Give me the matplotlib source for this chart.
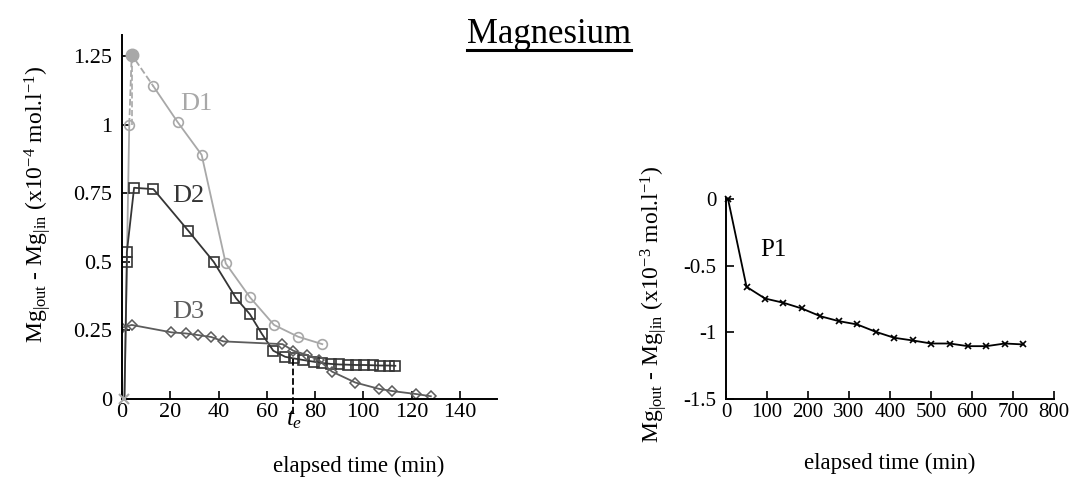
import matplotlib
matplotlib.use("Agg")
import matplotlib.pyplot as plt
from matplotlib.lines import Line2D

# ---- data ----
# D1 (light grey circles); indices 1..3 are the dashed estimated peak segment
d1_t = [1, 3, 4, 13, 23, 33, 43, 53, 63, 73, 83]
d1_v = [0, 1.0, 1.255, 1.14, 1.01, 0.89, 0.494, 0.371, 0.27, 0.227, 0.2]

# D2 (dark squares)
d2_t = [1, 2, 2, 5, 13, 27.5, 38, 47.3, 53, 58, 62.7, 67.6, 71.1, 75.2, 79.4,
        83, 86.5, 90, 93.5, 97, 100.5, 104, 107, 110.5, 113.3]
d2_v = [0, 0.50, 0.535, 0.77, 0.765, 0.613, 0.50, 0.367, 0.309, 0.237, 0.176,
        0.154, 0.148, 0.142, 0.136, 0.131, 0.128, 0.126, 0.125, 0.124, 0.124,
        0.123, 0.122, 0.122, 0.121]

# D3 (grey diamonds)
d3_t = [0, 4, 20.5, 26.5, 31.5, 37, 42, 66.5, 71, 76.5, 81.5, 87, 96.7,
        106.5, 112, 122, 128]
d3_v = [0.26, 0.27, 0.243, 0.239, 0.233, 0.226, 0.21, 0.2, 0.176, 0.161,
        0.142, 0.1, 0.06, 0.037, 0.029, 0.018, 0.01]

t_e = 71
t_e_top = 0.145

# P1 (right panel)
p1_t = [5, 50, 95, 140, 185, 230, 275, 320, 365, 410, 455, 500, 545, 590,
        635, 680, 725]
p1_v = [0, -0.657, -0.745, -0.777, -0.82, -0.878, -0.915, -0.94, -0.995,
        -1.04, -1.06, -1.083, -1.083, -1.103, -1.103, -1.083, -1.09]

left_xticks = [0, 20, 40, 60, 80, 100, 120, 140]
left_yticks = [0, 0.25, 0.5, 0.75, 1, 1.25]
left_ytick_labels = ["0", "0.25", "0.5", "0.75", "1", "1.25"]
right_xticks = [0, 100, 200, 300, 400, 500, 600, 700, 800]
right_yticks = [0, -0.5, -1, -1.5]
right_ytick_labels = ["0", "-0.5", "-1", "-1.5"]

plt.rcParams["font.family"] = ["Liberation Serif", "DejaVu Serif"]
plt.rcParams["mathtext.fontset"] = "custom"
plt.rcParams["mathtext.rm"] = "Liberation Serif"
plt.rcParams["mathtext.it"] = "Liberation Serif:italic"

C1 = "#a8a8a8"
C2 = "#353535"
C3 = "#5c5c5c"

fig = plt.figure(figsize=(10.78, 4.79), dpi=100)
ax1 = fig.add_axes([0.1132, 0.167, 0.348, 0.760])
ax2 = fig.add_axes([0.6735, 0.167, 0.3043, 0.4196])


def style_axes(ax, size):
    for s in ("top", "right"):
        ax.spines[s].set_visible(False)
    for s in ("left", "bottom"):
        ax.spines[s].set_linewidth(1.4)
    ax.tick_params(direction="in", length=6, width=1.2, labelsize=size)
    ax.tick_params(axis="y", pad=7)
    ax.tick_params(axis="x", pad=3)


# ---- left panel ----
# D1: solid start, dashed peak estimate, solid decay
ax1.plot(d1_t[:2], d1_v[:2], "-", color=C1, lw=1.3)
ax1.plot(d1_t[1:4], d1_v[1:4], "--", color=C1, lw=1.3)
ax1.plot(d1_t[3:], d1_v[3:], "-", color=C1, lw=1.3)
ax1.plot([d1_t[1]] + d1_t[3:], [d1_v[1]] + d1_v[3:], "o", ls="none",
         mfc="none", mec=C1, ms=7, mew=1.2)
ax1.plot(d1_t[2], d1_v[2], "o", color=C1, ms=9)
ax1.plot([d1_t[2], d1_t[2]], [d1_v[1], d1_v[2]], "--", color=C1, lw=1.2)

ax1.plot(d2_t, d2_v, "-", color=C2, lw=1.3, marker="s", mfc="none",
         mec=C2, ms=7, mew=1.2, markevery=list(range(1, len(d2_t))))
ax1.plot(d3_t, d3_v, "-", color=C3, lw=1.3, marker="D", mfc="none",
         mec=C3, ms=5, mew=1.1)
ax1.plot(d1_t[0], d1_v[0], marker="x", color=C1, ms=7, mew=1.5,
         clip_on=False, zorder=5)

ax1.plot([t_e, t_e], [t_e_top, -0.06], "--", color="black", lw=1.3,
         clip_on=False)
ax1.text(t_e + 0.5, -0.075, r"$t_e$", fontsize=18, ha="center", va="center")

ax1.text(31, 1.075, "D1", color=C1, fontsize=19, ha="center", va="center")
ax1.text(27.6, 0.74, "D2", color=C2, fontsize=19, ha="center", va="center")
ax1.text(27.6, 0.317, "D3", color=C3, fontsize=19, ha="center", va="center")

ax1.set_xlim(0, 155.5)
ax1.set_ylim(0, 1.327)
ax1.set_xticks(left_xticks)
ax1.set_yticks(left_yticks)
ax1.set_yticklabels(left_ytick_labels)
style_axes(ax1, 16)
ax1.set_xlabel("elapsed time (min)", fontsize=16.5)
ax1.xaxis.set_label_coords(0.63, -0.155)
ax1.set_ylabel(r"Mg$_{|\mathrm{out}}$ - Mg$_{|\mathrm{in}}$ (x10$^{-4}$ mol.l$^{-1}$)",
               fontsize=17)
ax1.yaxis.set_label_coords(-0.185, 0.535)

# ---- right panel ----
ax2.plot(p1_t, p1_v, "-", color="black", lw=1.3, marker="x", ms=5, mew=1.2,
         clip_on=False)
ax2.text(116, -0.384, "P1", fontsize=18, ha="center", va="center")
ax2.set_xlim(0, 800)
ax2.set_ylim(-1.5, 0.01)
ax2.set_xticks(right_xticks)
ax2.set_yticks(right_yticks)
ax2.set_yticklabels(right_ytick_labels)
style_axes(ax2, 15)
ax2.set_xlabel("elapsed time (min)", fontsize=16.5)
ax2.xaxis.set_label_coords(0.5, -0.27)
ax2.set_ylabel(r"Mg$_{|\mathrm{out}}$ - Mg$_{|\mathrm{in}}$ (x10$^{-3}$ mol.l$^{-1}$)",
               fontsize=17)
ax2.yaxis.set_label_coords(-0.175, 0.47)

# ---- underlined title ----
title = fig.text(0.509, 0.910, "Magnesium", fontsize=25, ha="center",
                 va="baseline")
fig.canvas.draw()
bb = title.get_window_extent()
W, H = fig.bbox.width, fig.bbox.height
fig.add_artist(Line2D([bb.x0 / W, bb.x1 / W], [0.896, 0.896], color="black",
                      lw=2.2, transform=fig.transFigure))

fig.savefig("out.png", dpi=100)
